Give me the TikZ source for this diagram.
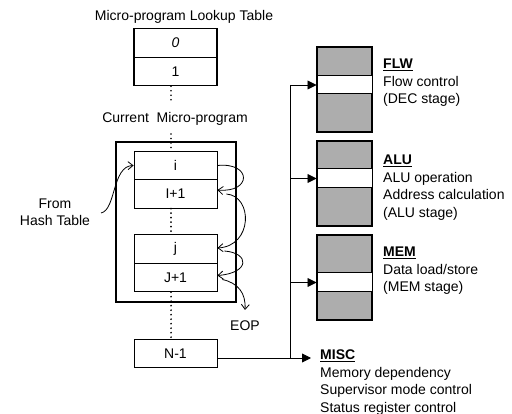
\documentclass[tikz,border=0pt]{standalone}
\usepackage{fontspec}
\setmainfont{Liberation Sans}
\usetikzlibrary{arrows.meta}
\begin{document}
\begin{tikzpicture}[x=1pt,y=-1pt,
 every node/.style={font=\fontsize{14}{17.5}\selectfont},
 cell/.style={draw, line width=0.8pt, minimum width=83pt, minimum height=28.5pt, inner sep=0pt},
 stagebox/.style={draw, line width=1.2pt, fill=black!32, minimum width=55pt, inner sep=0pt},
 band/.style={draw, line width=1pt, fill=white, minimum width=55pt, inner sep=0pt},
 dotline/.style={line width=1.8pt, dash pattern=on 0pt off 4.5pt, line cap=round},
 barb/.style={line width=0.8pt, -{Straight Barb[length=5pt,width=8pt]}},
 tri/.style={line width=0.9pt, -{Triangle[length=9pt,width=9pt]}},
 lbl/.style={align=left, inner sep=0pt, anchor=north west}]
\useasboundingbox (0,0) rectangle (512,414);
% left column
\node (title) at (184,17) {Micro-program Lookup Table};
\node[cell, line width=1.2pt] (lt0) at (175.5,43) {\textit{0}};
\node[cell, line width=1.2pt] (lt1) at (175.5,71.5) {1};
\node (cur) at (175,119) {Current\ \ Micro-program};
\node[draw, line width=2.8pt, minimum width=120pt, minimum height=160pt, inner sep=0pt] (frame) at (176,222) {};
\node[cell] (ci) at (175.5,165.5) {i};
\node[cell] (ci1) at (175.5,194) {I+1};
\node[cell] (cj) at (175.5,249) {j};
\node[cell] (cj1) at (175.5,277.5) {J+1};
\node[cell] (cn) at (175.5,353.5) {N-1};
\coordinate (dotx) at (171,0);
\draw[dotline] (lt1.south -| dotx) -- (171,104);
\draw[dotline] (171,134) -- (ci.north -| dotx);
\draw[dotline] (ci1.south -| dotx) -- (cj.north -| dotx);
\draw[dotline] (cj1.south -| dotx) -- (cn.north -| dotx);
\node[align=center, inner sep=0pt] (hash) at (55,212.5) {From\\Hash Table};
\node (eop) at (245,326) {EOP};
\coordinate (hs) at (101,213);
\coordinate (eopt) at (245,310);
\draw[barb] (hs) .. controls (116,210) and (112,166) .. (ci.west);
\draw[barb] (ci.east) .. controls (252,162) and (252,193) .. ([yshift=4pt]ci1.east);
\draw[barb] ([xshift=9pt]ci1.east) .. controls (253,196) and (253,246) .. ([yshift=1pt]cj.east);
\draw[barb] ([xshift=7pt,yshift=-2pt]cj.east) .. controls (250,253) and (250,273) .. ([yshift=2pt]cj1.east);
\draw[barb] ([xshift=5pt,yshift=-2pt]cj1.east) .. controls (238,283) and (246,293) .. (eopt);
% right column
\node[stagebox, minimum height=85pt] (flw) at (344.5,89.5) {};
\node[band, minimum height=18pt] (flwb) at (344.5,85) {};
\node[stagebox, minimum height=85pt] (alu) at (344.5,183.5) {};
\node[band, minimum height=19pt] (alub) at (344.5,178.5) {};
\node[stagebox, minimum height=85pt] (mem) at (344.5,277.5) {};
\node[band, minimum height=19pt] (memb) at (344.5,282.5) {};
\coordinate (sptop) at (290,85);
\coordinate (spbot) at (290,358);
\coordinate (misctip) at (311,358);
\draw[line width=0.9pt] (sptop) -- (spbot);
\draw[tri] (sptop) -- (flwb.west);
\draw[tri] (alub.west -| sptop) -- (alub.west);
\draw[tri] (memb.west -| sptop) -- (memb.west);
\draw[tri] (cn.east |- spbot) -- (misctip);
\node[lbl] (flwt) at (383,59) {\underline{\textbf{FLW}}\\Flow control\\(DEC stage)};
\node[lbl] (alut) at (383,155) {\underline{\textbf{ALU}}\\ALU operation\\Address calculation\\(ALU stage)};
\node[lbl] (memt) at (383,247) {\underline{\textbf{MEM}}\\Data load/store\\(MEM stage)};
\node[lbl] (misct) at (320,350) {\underline{\textbf{MISC}}\\Memory dependency\\Supervisor mode control\\Status register control};
\end{tikzpicture}
\end{document}
